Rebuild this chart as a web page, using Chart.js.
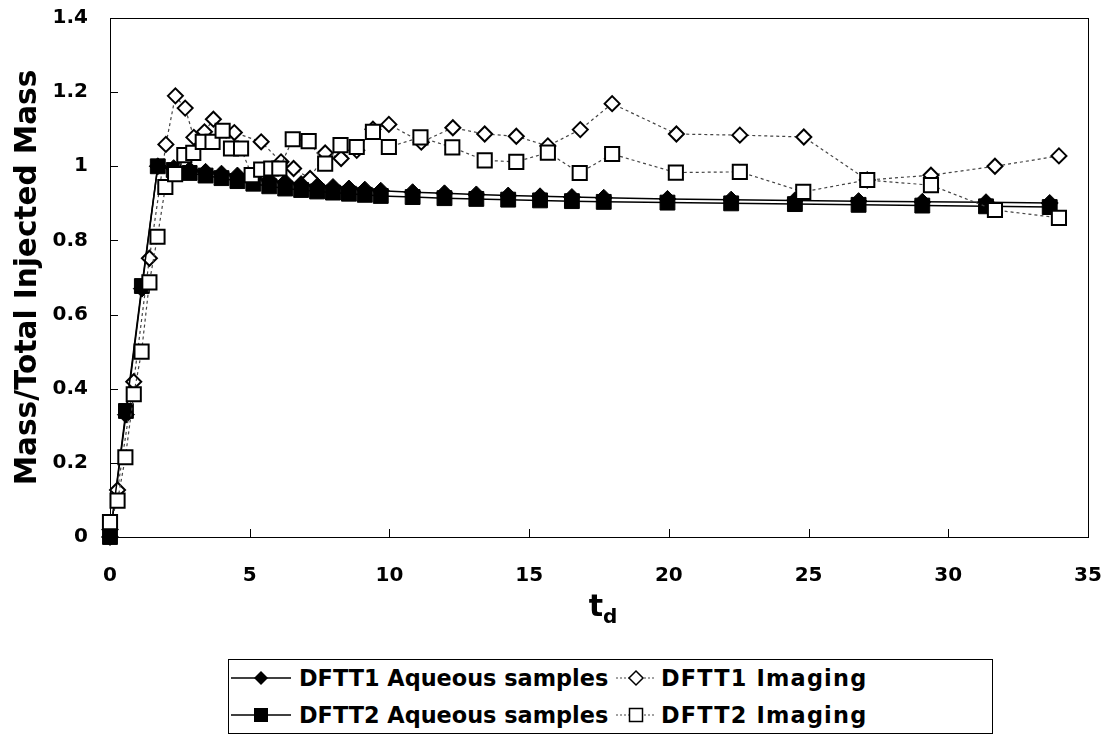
<!DOCTYPE html>
<html>
<head>
<meta charset="utf-8">
<script src="https://cdn.jsdelivr.net/npm/chart.js@4.4.1/dist/chart.umd.min.js"></script>
<style>
  body{margin:0;background:#fff;font-family:"DejaVu Sans",sans-serif;}
  #wrap{position:relative;width:1114px;height:737px;overflow:hidden;}
  #c{position:absolute;left:0;top:0;}
  #xt{position:absolute;left:553px;width:100px;top:588px;text-align:center;font-weight:bold;font-size:30px;}
  #xt sub{font-size:20px;}
  #legend{position:absolute;left:228px;top:659px;width:765px;height:75px;border:1px solid #000;box-sizing:border-box;}
  .row{position:absolute;left:0;height:36px;display:flex;align-items:center;font-weight:bold;font-size:22.4px;white-space:nowrap;}
  .row svg{display:block;}
  .lbl1{width:316px;margin-left:6px;}
  .lbl2{margin-left:4px;letter-spacing:1.2px;}
</style>
</head>
<body>
<div id="wrap">
  <canvas id="c" width="1114" height="650"></canvas>
  <div id="xt">t<sub>d</sub></div>
  <div id="legend">
    <div class="row" style="top:0px">
      <svg width="64" height="20"><line x1="2" y1="10" x2="62" y2="10" stroke="#000" stroke-width="1.5"/><polygon points="32,3 39,10 32,17 25,10" fill="#000"/></svg>
      <span class="lbl1">DFTT1 Aqueous samples</span>
      <svg width="42" height="20"><line x1="1" y1="10" x2="41" y2="10" stroke="#444" stroke-width="1.2" stroke-dasharray="2,2"/><polygon points="21,3 28,10 21,17 14,10" fill="#fff" stroke="#000" stroke-width="1.5"/></svg>
      <span class="lbl2">DFTT1 Imaging</span>
    </div>
    <div class="row" style="top:37px">
      <svg width="64" height="20"><line x1="2" y1="10" x2="62" y2="10" stroke="#000" stroke-width="1.5"/><rect x="25" y="3" width="14" height="14" fill="#000"/></svg>
      <span class="lbl1">DFTT2 Aqueous samples</span>
      <svg width="42" height="20"><line x1="1" y1="10" x2="41" y2="10" stroke="#444" stroke-width="1.2" stroke-dasharray="2,2"/><rect x="14.5" y="3.5" width="13" height="13" fill="#fff" stroke="#000" stroke-width="1.5"/></svg>
      <span class="lbl2">DFTT2 Imaging</span>
    </div>
  </div>
</div>
<script>
// dimensionless time t_d for aqueous samples (same for both tests)
const aqTime = [0, 0.57, 1.14, 1.71, 2.28, 2.85, 3.42, 3.99, 4.56, 5.13, 5.70, 6.27, 6.84, 7.41, 7.98, 8.55, 9.12, 9.69,
  10.83, 11.97, 13.11, 14.25, 15.39, 16.53, 17.67, 19.95, 22.23, 24.51, 26.79, 29.07, 31.35, 33.63];
const dftt1Aq = [0, 0.33, 0.67, 1.0, 0.995, 0.99, 0.985, 0.98, 0.975, 0.968, 0.962, 0.957, 0.952, 0.948, 0.944, 0.94, 0.937, 0.934,
  0.930, 0.927, 0.924, 0.921, 0.919, 0.917, 0.915, 0.912, 0.910, 0.908, 0.906, 0.904, 0.903, 0.901];
const dftt2Aq = [0, 0.34, 0.677, 1.0, 0.99, 0.982, 0.975, 0.968, 0.96, 0.953, 0.946, 0.94, 0.936, 0.932, 0.929, 0.926, 0.923, 0.920,
  0.917, 0.914, 0.912, 0.910, 0.908, 0.906, 0.904, 0.902, 0.900, 0.898, 0.896, 0.894, 0.892, 0.890];

// imaging
const img1Time = [0, 0.27, 0.85, 1.41, 2.0, 2.34, 2.69, 3.0, 3.38, 3.7, 4.45, 5.41, 6.12, 6.57, 7.16, 7.7, 8.27, 8.83, 9.41, 9.98,
  11.14, 12.27, 13.41, 14.54, 15.67, 16.83, 17.97, 20.27, 22.54, 24.83, 27.1, 29.38, 31.67, 33.96];
const img1Val = [0.02, 0.127, 0.419, 0.752, 1.059, 1.19, 1.157, 1.078, 1.093, 1.127, 1.091, 1.066, 1.012, 0.994, 0.967, 1.036, 1.021, 1.043, 1.10, 1.113,
  1.065, 1.104, 1.087, 1.081, 1.055, 1.099, 1.169, 1.087, 1.084, 1.079, 0.963, 0.976, 1.0, 1.028];
const img2Time = [0, 0.27, 0.55, 0.85, 1.13, 1.41, 1.7, 1.98, 2.33, 2.66, 2.98, 3.32, 3.67, 4.03, 4.33, 4.69, 5.07, 5.41, 5.77, 6.06,
  6.54, 7.11, 7.7, 8.25, 8.83, 9.41, 9.98, 11.11, 12.25, 13.41, 14.54, 15.67, 16.81, 17.97, 20.25, 22.54, 24.81, 27.1, 29.38, 31.67, 33.96];
const img2Val = [0.04, 0.098, 0.215, 0.385, 0.5, 0.687, 0.81, 0.944, 0.979, 1.03, 1.036, 1.066, 1.066, 1.096, 1.048, 1.048, 0.976, 0.991, 0.994, 0.994,
  1.073, 1.068, 1.007, 1.057, 1.052, 1.093, 1.052, 1.078, 1.051, 1.016, 1.012, 1.037, 0.982, 1.033, 0.983, 0.985, 0.931, 0.963, 0.949, 0.882, 0.861];

const xTicks = [0, 5, 10, 15, 20, 25, 30, 35];
const yTicks = [0, 0.2, 0.4, 0.6, 0.8, 1, 1.2, 1.4];

const pts = (xs, ys) => xs.map((x, i) => ({x, y: ys[i]}));

// box round the plot area + inside tick marks
const frame = {
  id: 'frame',
  beforeDatasetsDraw(chart){
    const {ctx, chartArea:a, scales:{x, y}} = chart;
    ctx.save();
    ctx.strokeStyle = '#000'; ctx.lineWidth = 1;
    ctx.strokeRect(Math.round(a.left)+0.5, Math.round(a.top)+0.5, Math.round(a.right-a.left), Math.round(a.bottom-a.top));
    ctx.beginPath();
    yTicks.forEach(v=>{ const py = Math.round(y.getPixelForValue(v))+0.5; ctx.moveTo(a.left, py); ctx.lineTo(a.left+8, py); });
    xTicks.forEach(v=>{ const px = Math.round(x.getPixelForValue(v))+0.5; ctx.moveTo(px, a.bottom); ctx.lineTo(px, a.bottom-8); });
    ctx.stroke();
    ctx.restore();
  }
};

const tickFont = {family:'"DejaVu Sans"', size:20, weight:'bold'};

new Chart(document.getElementById('c'), {
  type: 'scatter',
  data: {
    datasets: [
      {label:'DFTT1 Aqueous samples', data: pts(aqTime, dftt1Aq), showLine:true, order:4,
        borderColor:'#000', borderWidth:1.5, pointStyle:'rectRot', pointRadius:8.5, backgroundColor:'#000', pointBorderColor:'#000', pointBorderWidth:1},
      {label:'DFTT1 Imaging', data: pts(img1Time, img1Val), showLine:true, order:3,
        borderColor:'#444', borderWidth:1.2, borderDash:[3,3], pointStyle:'rectRot', pointRadius:7.5, backgroundColor:'#fff', pointBorderColor:'#000', pointBorderWidth:2},
      {label:'DFTT2 Aqueous samples', data: pts(aqTime, dftt2Aq), showLine:true, order:2,
        borderColor:'#000', borderWidth:1.5, pointStyle:'rect', pointRadius:10.5, backgroundColor:'#000', pointBorderColor:'#000', pointBorderWidth:1},
      {label:'DFTT2 Imaging', data: pts(img2Time, img2Val), showLine:true, order:1,
        borderColor:'#444', borderWidth:1.2, borderDash:[3,3], pointStyle:'rect', pointRadius:10, backgroundColor:'#fff', pointBorderColor:'#000', pointBorderWidth:2}
    ]
  },
  options: {
    responsive:false, animation:false, devicePixelRatio:1,
    layout:{padding:{left:0, top:18, right:26, bottom:0}},
    clip:false,
    plugins:{legend:{display:false}, tooltip:{enabled:false}},
    elements:{line:{tension:0}},
    scales:{
      x:{type:'linear', min:0, max:35,
        afterFit(s){ s.height = 113; s.paddingLeft = 0; s.paddingRight = 0; },
        afterBuildTicks(s){ s.ticks = xTicks.map(v=>({value:v})); },
        grid:{display:false, drawTicks:false}, border:{display:false},
        ticks:{font:tickFont, color:'#000', padding:27, maxRotation:0}},
      y:{type:'linear', min:0, max:1.4,
        afterFit(s){ s.width = 110; s.paddingTop = 0; s.paddingBottom = 0; },
        afterBuildTicks(s){ s.ticks = yTicks.map(v=>({value:v})); },
        grid:{display:false, drawTicks:false}, border:{display:false},
        ticks:{font:tickFont, color:'#000', padding:22, callback:v=>String(+v.toFixed(1))},
        title:{display:true, text:'Mass/Total Injected Mass', color:'#000',
          font:{family:'"DejaVu Sans"', size:29.5, weight:'bold'}, padding:{top:11, bottom:0}}}
    }
  },
  plugins:[frame]
});
</script>
</body>
</html>
